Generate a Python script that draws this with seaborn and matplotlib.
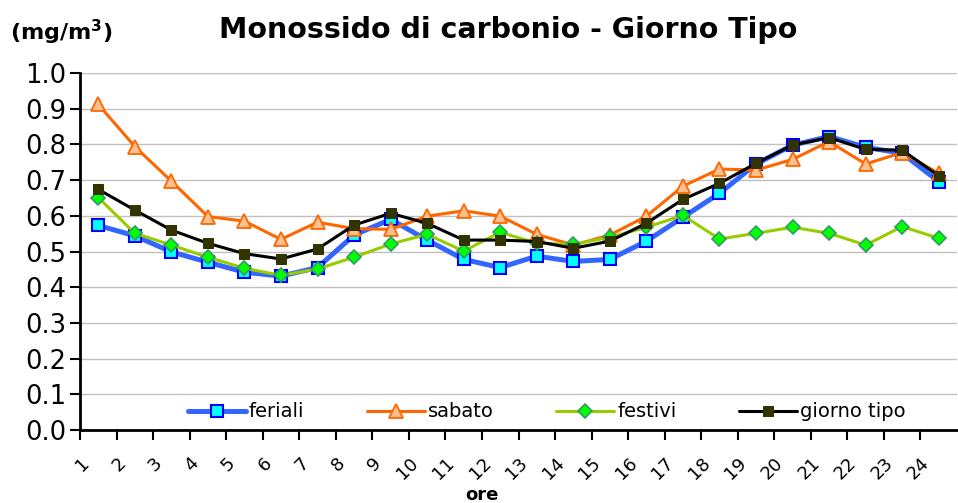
import matplotlib
matplotlib.use("Agg")
import matplotlib.pyplot as plt
import numpy as np
import seaborn as sns

# hours of the day
ore = list(range(1, 25))

feriali = [0.573, 0.544, 0.499, 0.470, 0.442, 0.431, 0.455, 0.546, 0.590, 0.532,
           0.478, 0.455, 0.487, 0.472, 0.478, 0.529, 0.596, 0.663, 0.745, 0.798,
           0.822, 0.792, 0.775, 0.696]
sabato = [0.912, 0.794, 0.697, 0.598, 0.585, 0.534, 0.582, 0.564, 0.562, 0.599,
          0.614, 0.599, 0.548, 0.518, 0.546, 0.599, 0.683, 0.731, 0.728, 0.758,
          0.808, 0.745, 0.777, 0.719]
festivi = [0.651, 0.551, 0.518, 0.484, 0.453, 0.433, 0.451, 0.484, 0.521, 0.548,
           0.501, 0.554, 0.523, 0.520, 0.540, 0.568, 0.601, 0.535, 0.551, 0.568,
           0.551, 0.518, 0.570, 0.537]
giorno_tipo = [0.674, 0.616, 0.560, 0.523, 0.494, 0.479, 0.507, 0.574, 0.607, 0.579,
               0.532, 0.532, 0.528, 0.509, 0.529, 0.579, 0.646, 0.691, 0.747, 0.798,
               0.819, 0.786, 0.784, 0.712]

sns.set_style("white")
plt.rcParams['font.family'] = ['DejaVu Sans']
plt.rcParams.update({"text.color": "black", "axes.labelcolor": "black",
                     "xtick.color": "black", "ytick.color": "black"})

fig = plt.figure(figsize=(9.58, 5.03), dpi=100)
ax = fig.add_axes([80 / 958, 73 / 503, 877 / 958, 357 / 503])

# points sit in the middle of each hour slot
x = np.array(ore) - 0.5

sns.lineplot(x=x, y=feriali, ax=ax, color="#3366FF", linewidth=3.6, marker="s",
             markersize=8, markerfacecolor="#00FFFF", markeredgecolor="#0000FF",
             markeredgewidth=1.5, label="feriali")
sns.lineplot(x=x, y=sabato, ax=ax, color="#FF6600", linewidth=2.2, marker="^",
             markersize=10, markerfacecolor="#FFC08F", markeredgecolor="#FF6600",
             markeredgewidth=1.3, label="sabato")
sns.lineplot(x=x, y=festivi, ax=ax, color="#99CC00", linewidth=2.2, marker="D",
             markersize=7, markerfacecolor="#00FF00", markeredgecolor="#339966",
             markeredgewidth=1.2, label="festivi")
sns.lineplot(x=x, y=giorno_tipo, ax=ax, color="black", linewidth=2.2, marker="s",
             markersize=7.5, markerfacecolor="#333300", markeredgecolor="#333300",
             label="giorno tipo")

ax.set_xlim(0, 24)
ax.set_ylim(0, 1.0)
ax.set_yticks(np.arange(0, 1.01, 0.1))
ax.set_yticklabels([f"{v:.1f}" for v in np.arange(0, 1.01, 0.1)], fontsize=18.5)
ax.set_xticks(np.arange(24))
ax.set_xticklabels([str(h) for h in ore], fontsize=13, rotation=45,
                   ha="right", rotation_mode="anchor")

ax.yaxis.grid(True, color="#C0C0C0", linewidth=1)
ax.xaxis.grid(False)
ax.set_axisbelow(True)
ax.axhline(1.0, color="#808080", linewidth=1.5, zorder=0.5)
for s in ["top", "right"]:
    ax.spines[s].set_visible(False)
for s in ["left", "bottom"]:
    ax.spines[s].set_color("black")
    ax.spines[s].set_linewidth(2)
ax.tick_params(axis="both", direction="out", length=7, width=1.5, color="black",
               left=True, bottom=True)
ax.tick_params(axis="x", pad=10)
ax.tick_params(axis="y", pad=3)

ax.set_xlabel("")
ax.set_ylabel("")

ax.legend(loc="lower center", bbox_to_anchor=(0.532, -0.025), ncol=4, frameon=False,
          fontsize=14, handlelength=3.0, columnspacing=3.2, handletextpad=0.15)

fig.text(0.53, 0.94, "Monossido di carbonio - Giorno Tipo", ha="center", va="center",
         fontsize=20.5, fontweight="bold")
fig.text(0.01, 0.936, "(mg/m$^\\mathbf{3}$)", ha="left", va="center",
         fontsize=16, fontweight="bold")
fig.text(482 / 958, 1 - 495 / 503, "ore", ha="center", va="center",
         fontsize=13, fontweight="bold")

fig.savefig("out.png", dpi=100)
